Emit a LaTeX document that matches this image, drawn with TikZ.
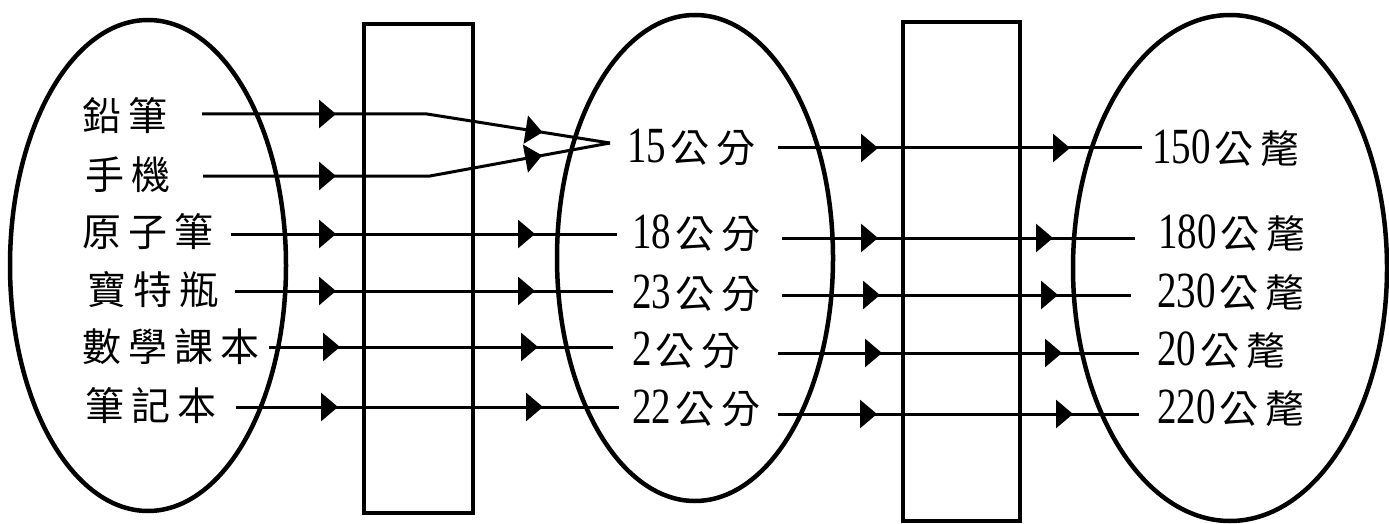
\documentclass[tikz,border=0pt]{standalone}
\usepackage{fontspec}
\setmainfont{Liberation Serif}
\newfontfamily\cjk[LetterSpace=18]{Noto Sans CJK TC}
\usetikzlibrary{shapes.geometric,arrows.meta,decorations.markings}
\newcommand\dg[1]{\scalebox{1}[1.3]{#1}\hspace{4pt}}
\tikzset{
  x=1pt,y=-1pt,
  oval/.style={draw,ellipse,line width=4.5pt,inner sep=0pt},
  tallbox/.style={draw,rectangle,line width=4.5pt,inner sep=0pt},
  lbl/.style={anchor=west,inner sep=0pt,font=\fontsize{39}{42}\selectfont\cjk},
  heads/.style 2 args={line width=3pt,postaction={decorate},
    decoration={markings,
      mark=at position #1pt with {\arrow{Triangle[length=17pt,width=28pt]}},
      mark=at position #2pt with {\arrow{Triangle[length=17pt,width=28pt]}}}},
}
\begin{document}
\begin{tikzpicture}
\useasboundingbox (0,0) rectangle (1389,524);
% sets and boxes
\node[oval,minimum width=276,minimum height=491] (E1) at (148,265.5) {};
\node[oval,minimum width=276,minimum height=486] (E2) at (695,258) {};
\node[oval,minimum width=314,minimum height=506] (E3) at (1230,268) {};
\node[tallbox,minimum width=109,minimum height=489] (B1) at (418.5,268.5) {};
\node[tallbox,minimum width=117,minimum height=499] (B2) at (961.5,271.5) {};
% left labels
\node[lbl] (a1) at (82,116) {鉛筆};
\node[lbl] (a2) at (85,175) {手機};
\node[lbl] (a3) at (82,232) {原子筆};
\node[lbl] (a4) at (87,290) {寶特瓶};
\node[lbl] (a5) at (82,347) {數學課本};
\node[lbl] (a6) at (85,406) {筆記本};
% middle labels
\node[lbl] (m1) at (627,147) {\rmfamily\dg{15}\cjk 公分};
\node[lbl] (m2) at (632,233) {\rmfamily\dg{18}\cjk 公分};
\node[lbl] (m3) at (632,293) {\rmfamily\dg{23}\cjk 公分};
\node[lbl] (m4) at (632,350) {\rmfamily\dg{2}\cjk 公分};
\node[lbl] (m5) at (632,408) {\rmfamily\dg{22}\cjk 公分};
% right labels
\node[lbl] (r1) at (1152,148) {\rmfamily\dg{150}\cjk 公氂};
\node[lbl] (r2) at (1158,233) {\rmfamily\dg{180}\cjk 公氂};
\node[lbl] (r3) at (1157,292) {\rmfamily\dg{230}\cjk 公氂};
\node[lbl] (r4) at (1157,350) {\rmfamily\dg{20}\cjk 公氂};
\node[lbl] (r5) at (1157,408) {\rmfamily\dg{220}\cjk 公氂};
% connector ends
\coordinate (s1) at (202,114); \coordinate (k1) at (427,114);
\coordinate (s2) at (203,176); \coordinate (k2) at (430,176);
\coordinate (c15) at (610,143);
\coordinate (s3) at (231,234); \coordinate (e3) at (617,234);
\coordinate (s4) at (235,291); \coordinate (e4) at (613,291);
\coordinate (s5) at (269,347); \coordinate (e5) at (613,347);
\coordinate (s6) at (236,407); \coordinate (e6) at (619,407);
\coordinate (t1) at (778,148); \coordinate (u1) at (1142,148);
\coordinate (t2) at (782,238); \coordinate (u2) at (1135,238);
\coordinate (t3) at (782,295); \coordinate (u3) at (1131,295);
\coordinate (t4) at (778,353); \coordinate (u4) at (1139,353);
\coordinate (t5) at (778,414); \coordinate (u5) at (1139,414);
% connectors
\draw[heads={134}{342}] (s1) -- (k1) -- (c15);
\draw[heads={133}{341}] (s2) -- (k2) -- (c15);
\draw[heads={105}{304}] (s3) -- (e3);
\draw[heads={101}{300}] (s4) -- (e4);
\draw[heads={71}{269}] (s5) -- (e5);
\draw[heads={102}{307}] (s6) -- (e6);
\draw[heads={100}{292}] (t1) -- (u1);
\draw[heads={96}{271}] (t2) -- (u2);
\draw[heads={98}{276}] (t3) -- (u3);
\draw[heads={104}{284}] (t4) -- (u4);
\draw[heads={99}{295}] (t5) -- (u5);
\end{tikzpicture}
\end{document}
